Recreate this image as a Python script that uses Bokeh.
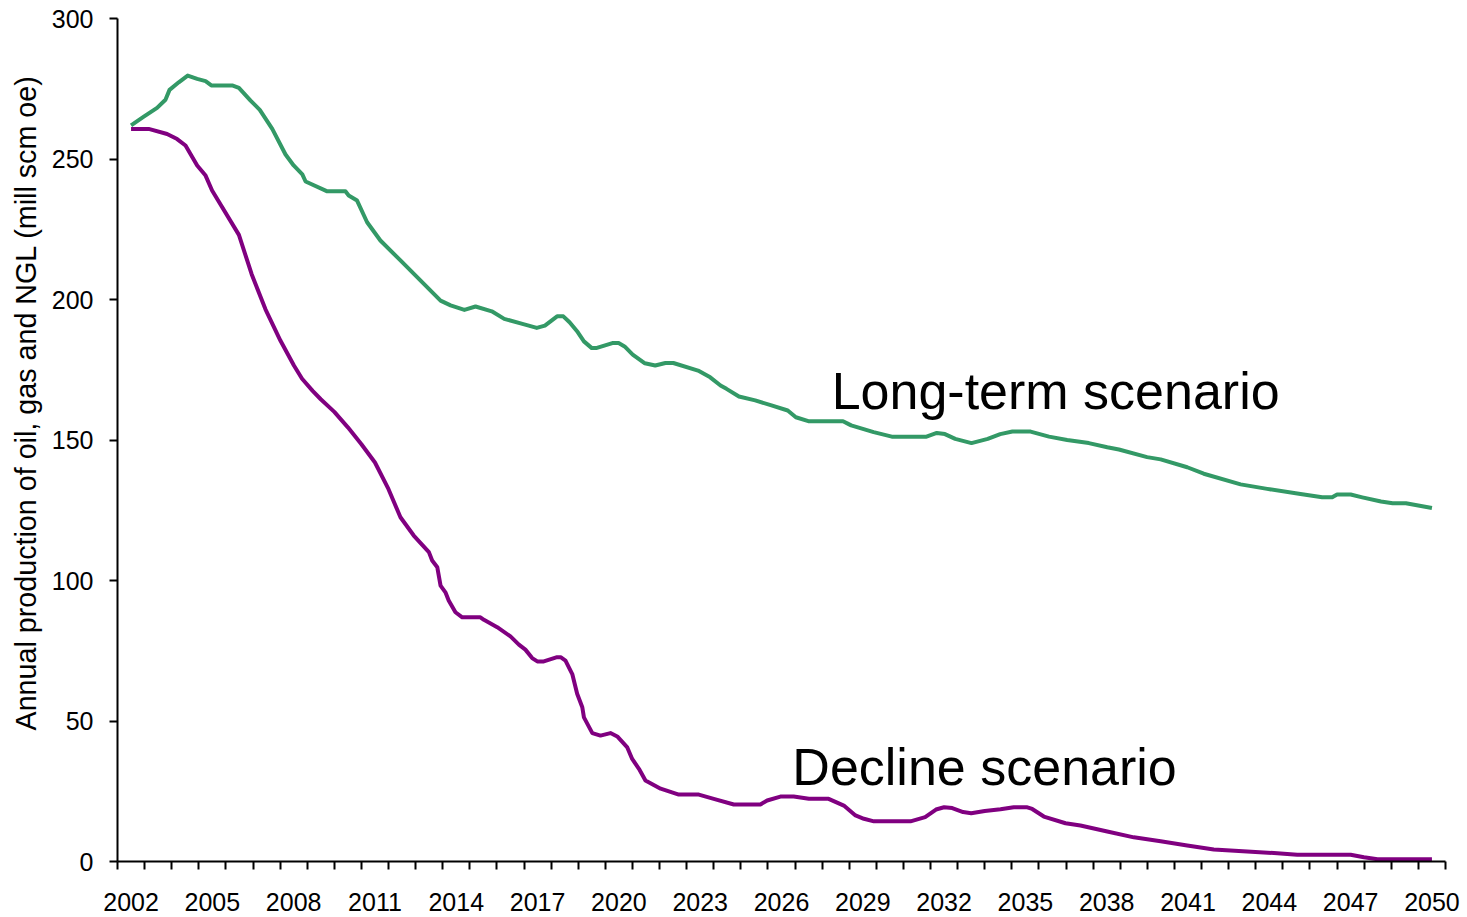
from bokeh.plotting import figure
from bokeh.models import FixedTicker, Range1d, Title
from bokeh.core.properties import value
from bokeh.embed import file_html
from bokeh.resources import INLINE

FONT = "Liberation Sans"

# ---- data ----
tick_years = list(range(2002, 2051, 3))
y_ticks = [0, 50, 100, 150, 200, 250, 300]
y_title = "Annual production of oil, gas and NGL (mill scm oe)"

longterm_years = [2002.0, 2002.47, 2002.96, 2003.27, 2003.42, 2003.76, 2004.09, 2004.44, 2004.75, 2004.96,
                  2005.73, 2005.98, 2006.41, 2006.75, 2007.21, 2007.70, 2008.0, 2008.32, 2008.44, 2009.24,
                  2009.91, 2010.03, 2010.34, 2010.71, 2011.2, 2011.94, 2013.42, 2013.79, 2014.3, 2014.71,
                  2015.31, 2015.77, 2016.44, 2016.97, 2017.27, 2017.72, 2017.95, 2018.18, 2018.48, 2018.71,
                  2019.0, 2019.16, 2019.76, 2019.99, 2020.21, 2020.51, 2020.96, 2021.34, 2021.72, 2022.01,
                  2022.92, 2023.37, 2023.75, 2023.97, 2024.43, 2025.03, 2025.63, 2026.23, 2026.53, 2026.99,
                  2028.27, 2028.57, 2029.4, 2030.07, 2031.35, 2031.73, 2032.03, 2032.41, 2033.01, 2033.61,
                  2034.07, 2034.52, 2035.19, 2035.87, 2036.54, 2037.34, 2038.02, 2038.45, 2039.49, 2039.99,
                  2040.97, 2041.58, 2042.94, 2043.92, 2045.15, 2045.95, 2046.32, 2046.5, 2047.0, 2047.43,
                  2048.12, 2048.55, 2049.04, 2050.0]
longterm_values = [262.0, 265.1, 268.2, 271.1, 274.6, 277.3, 279.7, 278.5, 277.7, 276.2,
                   276.2, 275.3, 270.8, 267.5, 260.7, 251.6, 247.7, 244.5, 242.0, 238.5,
                   238.5, 237.0, 235.2, 227.5, 221.0, 213.9, 199.6, 197.9, 196.3, 197.5,
                   195.8, 193.1, 191.3, 189.9, 190.7, 194.0, 194.0, 191.9, 188.4, 185.1,
                   182.7, 182.7, 184.5, 184.5, 183.3, 180.4, 177.3, 176.5, 177.4, 177.4,
                   174.7, 172.3, 169.4, 168.2, 165.5, 164.1, 162.3, 160.5, 158.1, 156.7,
                   156.7, 155.2, 152.8, 151.2, 151.2, 152.5, 152.1, 150.4, 148.9, 150.4,
                   152.1, 153.0, 153.0, 151.2, 150.0, 148.9, 147.4, 146.6, 143.9, 143.1,
                   140.3, 138.0, 134.2, 132.6, 130.8, 129.6, 129.6, 130.6, 130.6, 129.6,
                   128.1, 127.5, 127.5, 125.8]

decline_years = [2002.0, 2002.65, 2003.33, 2003.70, 2004.01, 2004.44, 2004.75, 2004.99, 2005.98, 2006.45,
                 2006.96, 2007.51, 2008.01, 2008.31, 2008.7, 2009.0, 2009.5, 2010.0, 2010.5, 2011.0,
                 2011.5, 2011.94, 2012.43, 2012.99, 2013.11, 2013.30, 2013.42, 2013.60, 2013.72, 2013.97,
                 2014.22, 2014.89, 2015.02, 2015.51, 2016.0, 2016.31, 2016.55, 2016.8, 2016.99, 2017.23,
                 2017.72, 2017.85, 2018.03, 2018.28, 2018.46, 2018.65, 2018.71, 2019.02, 2019.32, 2019.69,
                 2019.94, 2020.31, 2020.49, 2020.74, 2020.98, 2021.54, 2022.21, 2022.95, 2023.5, 2024.24,
                 2025.22, 2025.47, 2025.96, 2026.45, 2027.01, 2027.74, 2028.3, 2028.73, 2029.04, 2029.41,
                 2030.76, 2031.3, 2031.7, 2032.0, 2032.3, 2032.7, 2033.0, 2033.5, 2034.08, 2034.57,
                 2035.07, 2035.25, 2035.68, 2036.48, 2037.03, 2038.02, 2039.0, 2039.99, 2040.97, 2041.95,
                 2043.18, 2044.17, 2045.03, 2047.0, 2047.49, 2047.99, 2050.0]
decline_values = [260.7, 260.7, 258.9, 257.1, 254.8, 247.7, 244.1, 238.8, 223.0, 209.0,
                  196.5, 185.4, 176.5, 171.8, 167.5, 164.5, 160.0, 154.5, 148.5, 142.0,
                  132.5, 122.5, 116.0, 110.1, 107.1, 104.7, 98.2, 95.8, 92.9, 88.7,
                  86.9, 86.9, 86.0, 83.4, 80.1, 77.2, 75.4, 72.4, 71.2, 71.2,
                  72.7, 72.7, 71.5, 66.7, 59.7, 54.9, 51.3, 45.7, 44.8, 45.7,
                  44.5, 40.6, 36.5, 33.0, 28.8, 25.9, 23.8, 23.8, 22.3, 20.3,
                  20.3, 21.7, 23.1, 23.1, 22.3, 22.3, 19.9, 16.4, 15.2, 14.3,
                  14.3, 15.8, 18.5, 19.3, 19.0, 17.6, 17.2, 18.0, 18.6, 19.3,
                  19.3, 18.7, 16.0, 13.6, 12.8, 10.7, 8.6, 7.2, 5.7, 4.3,
                  3.6, 3.0, 2.4, 2.4, 1.5, 0.8, 0.8]

label_texts = ["Long-term scenario", "Decline scenario"]
label_x = [2027.85, 2026.4]
label_y = [167.6, 33.8]

GREEN = "#339966"
PURPLE = "#800080"

# ---- figure ----
p = figure(frame_width=1328, frame_height=843,
           x_range=Range1d(2001.5, 2050.5), y_range=Range1d(0, 300),
           output_backend="svg", toolbar_location=None,
           min_border_left=117, min_border_right=20, min_border_top=18, min_border_bottom=56)
p.outline_line_color = None
p.grid.visible = False
p.background_fill_color = "white"
p.border_fill_color = "white"

p.line(longterm_years, longterm_values, line_color=GREEN, line_width=4, line_join="round")
p.line(decline_years, decline_values, line_color=PURPLE, line_width=4, line_join="round")

p.text(x=label_x, y=label_y, text=label_texts, text_font=value(FONT), text_font_size="52px",
       text_color="black", text_baseline="middle", text_align="left")

# x axis
xa = p.xaxis[0]
xa.ticker = FixedTicker(ticks=tick_years, minor_ticks=[2001.5 + i for i in range(50)])
xa.major_tick_out = 0
xa.major_tick_in = 0
xa.minor_tick_out = 8
xa.minor_tick_in = 0
xa.minor_tick_line_color = "black"
xa.minor_tick_line_width = 2
xa.axis_line_width = 2
xa.axis_line_color = "black"
xa.major_label_text_font = FONT
xa.major_label_text_font_size = "25px"
xa.major_label_text_color = "black"
xa.major_label_standoff = 23

# y axis
ya = p.yaxis[0]
ya.ticker = FixedTicker(ticks=y_ticks, minor_ticks=[])
ya.major_tick_out = 8
ya.major_tick_in = 0
ya.major_tick_line_width = 2
ya.major_tick_line_color = "black"
ya.axis_line_width = 2
ya.axis_line_color = "black"
ya.major_label_text_font = FONT
ya.major_label_text_font_size = "25px"
ya.major_label_text_color = "black"
ya.major_label_standoff = 16

# y-axis title as a side title, starting a little above the frame bottom
ytitle = Title(text=y_title, align="left", offset=131, standoff=13,
               text_font=FONT, text_font_size="28.7px", text_font_style="normal",
               text_color="black")
p.add_layout(ytitle, "left")

open("out.html", "w").write(file_html(p, INLINE))
